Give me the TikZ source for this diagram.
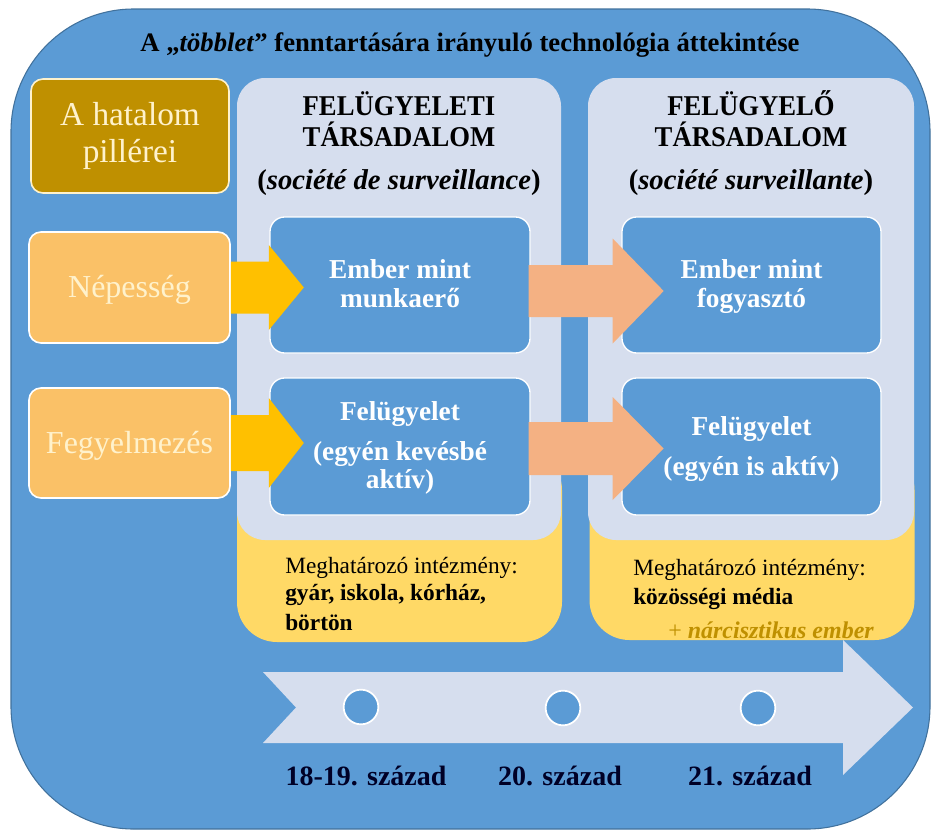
\documentclass[tikz,border=0pt]{standalone}
\usepackage{fontspec}
\setmainfont{Liberation Serif}
\usetikzlibrary{calc}
\definecolor{outerblue}{HTML}{5B9BD5}
\definecolor{outerline}{HTML}{41719C}
\definecolor{panelc}{HTML}{D6DEEE}
\definecolor{goldc}{HTML}{BF9000}
\definecolor{pillarc}{HTML}{FAC167}
\definecolor{yarrowc}{HTML}{FFC000}
\definecolor{oarrowc}{HTML}{F4B183}
\definecolor{ybottomc}{HTML}{FFD966}
\definecolor{creamc}{HTML}{FFF2CC}
\newcommand\myfs[2]{\fontsize{#1}{#2}\selectfont}
\tikzset{
  pillbox/.style={rectangle, rounded corners=9pt, fill=goldc, draw=creamc, line width=1.2pt, inner sep=0pt},
  sidebox/.style={rectangle, rounded corners=9pt, fill=pillarc, draw=white, line width=1.2pt, inner sep=0pt},
  innerbox/.style={rectangle, rounded corners=11pt, fill=outerblue, draw=white, line width=1pt, inner sep=0pt},
  panelbox/.style={rectangle, rounded corners=21pt, fill=panelc, inner sep=0pt},
  yellowbox/.style={rectangle, rounded corners=30pt, fill=ybottomc, inner sep=0pt},
  sidetext/.style={text=creamc, font=\myfs{24pt}{28pt}, align=center, inner sep=0pt},
  headtext/.style={anchor=base, font=\myfs{21.5pt}{24pt}\bfseries, inner sep=0pt},
  intext/.style={anchor=base, text=white, font=\myfs{20.5pt}{22pt}\bfseries, inner sep=0pt},
  ytext/.style={anchor=base west, font=\myfs{17.5pt}{20pt}, inner sep=0pt},
  timetext/.style={anchor=base, font=\myfs{21pt}{24pt}\bfseries, text=black!85!blue, inner sep=0pt},
  dot/.style={circle, fill=outerblue, draw=white, line width=1.3pt, minimum size=26pt, inner sep=0pt},
}
\begin{document}
\begin{tikzpicture}[x=0.75pt,y=-0.75pt]
\useasboundingbox (0,0) rectangle (933,832);
% outer frame
\draw[fill=outerblue, draw=outerline, line width=0.8pt, rounded corners=92pt] (11,9) rectangle (930,829);
% title
\node[anchor=base, font=\myfs{20pt}{24pt}\bfseries, inner sep=0pt] (title) at (470,51)
  {A „\textit{többlet}” fenntartására irányuló technológia áttekintése};
% yellow bottoms
\node[yellowbox, minimum width=243.75pt, minimum height=144pt] (yb1) at (399.5,546) {};
\node[yellowbox, minimum width=243.75pt, minimum height=142.5pt] (yb2) at (752,545) {};
% panels
\node[panelbox, minimum width=243pt, minimum height=346.5pt] (p1) at (399,309) {};
\node[panelbox, minimum width=244.5pt, minimum height=346.5pt] (p2) at (751,309) {};
% left column
\node[pillbox, minimum width=148.5pt, minimum height=85.5pt] (pill) at (130,136) {};
\node[sidetext, font=\myfs{25pt}{28pt}] (pilltxt) at (130,136) {A hatalom\\pillérei};
\node[sidebox, minimum width=150.75pt, minimum height=83.25pt] (nep) at (129.5,287.5) {};
\node[sidetext] (neptxt) at (129.5,290) {Népesség};
\node[sidebox, minimum width=150.75pt, minimum height=82.5pt] (feg) at (129.5,443) {};
\node[sidetext] (fegtxt) at (129.5,446) {Fegyelmezés};
% inner boxes
\node[innerbox, minimum width=195pt, minimum height=102pt] (m1) at (400,285) {};
\node[innerbox, minimum width=195pt, minimum height=102.75pt] (m2) at (400,446.5) {};
\node[innerbox, minimum width=194.25pt, minimum height=102pt] (r1) at (751.5,285) {};
\node[innerbox, minimum width=194.25pt, minimum height=102.75pt] (r2) at (751.5,446.5) {};
% block arrows (connectors)
\fill[yarrowc] (nep.east) ++(0,-26) -- ++(38,0) -- ++(0,-16.5) -- ++(35,42.5) -- ++(-35,42.5) -- ++(0,-16.5) -- ++(-38,0) -- cycle;
\fill[yarrowc] (feg.east) ++(0,-28) -- ++(38,0) -- ++(0,-17) -- ++(35,45) -- ++(-35,45) -- ++(0,-17) -- ++(-38,0) -- cycle;
\fill[oarrowc] (m1.east) ++(-2,-20) -- ++(84,0) -- ++(0,-26.5) -- ++(51,52.5) -- ++(-51,52.5) -- ++(0,-26.5) -- ++(-84,0) -- cycle;
\fill[oarrowc] (m2.east) ++(-2,-24.5) -- ++(84,0) -- ++(0,-25) -- ++(51,51.5) -- ++(-51,51.5) -- ++(0,-25) -- ++(-84,0) -- cycle;
% headers
\node[headtext, xscale=0.93] (h1a) at (399,115) {FELÜGYELETI};
\node[headtext, xscale=0.93] (h1b) at (399,146) {TÁRSADALOM};
\node[headtext] (h1c) at (399,189) {(\textit{société de surveillance})};
\node[headtext, xscale=0.93] (h2a) at (751,115) {FELÜGYELŐ};
\node[headtext, xscale=0.93] (h2b) at (751,146) {TÁRSADALOM};
\node[headtext] (h2c) at (751,189) {(\textit{société surveillante})};
% inner texts
\node[intext] (m1a) at (400,278) {Ember mint};
\node[intext] (m1b) at (400,307) {munkaerő};
\node[intext] (m2a) at (400,420) {Felügyelet};
\node[intext] (m2b) at (400,460) {(egyén kevésbé};
\node[intext] (m2c) at (400,488) {aktív)};
\node[intext] (r1a) at (751.5,278) {Ember mint};
\node[intext] (r1b) at (751.5,307) {fogyasztó};
\node[intext] (r2a) at (751.5,435) {Felügyelet};
\node[intext] (r2b) at (751.5,475) {(egyén is aktív)};
% yellow texts
\node[ytext] (y1a) at (285,573) {Meghatározó intézmény:};
\node[ytext] (y1b) at (285,600) {\bfseries gyár, iskola, kórház,};
\node[ytext] (y1c) at (285,630) {\bfseries börtön};
\node[ytext] (y2a) at (633,575) {Meghatározó intézmény:};
\node[ytext] (y2b) at (633,604) {\bfseries közösségi média};
\begin{scope}
\clip[rounded corners=30pt] (590,450) rectangle (915,639);
\node[ytext, font=\myfs{18pt}{20pt}\bfseries\itshape, text=goldc] (narc) at (668,638) {\upshape\mdseries +\ \bfseries\itshape nárcisztikus ember};
\end{scope}
% timeline
\fill[panelc] (263,672) -- (843,672) -- (843,640) -- (913,707.5) -- (843,775) -- (843,743) -- (263,743) -- (296,707.5) -- cycle;
\node[dot] (c1) at (361,707) {};
\node[dot] (c2) at (563,708) {};
\node[dot] (c3) at (758,708) {};
\node[timetext] (t1) at (366,785) {18-19. század};
\node[timetext] (t2) at (560,785) {20. század};
\node[timetext] (t3) at (750,785) {21. század};
\end{tikzpicture}
\end{document}
